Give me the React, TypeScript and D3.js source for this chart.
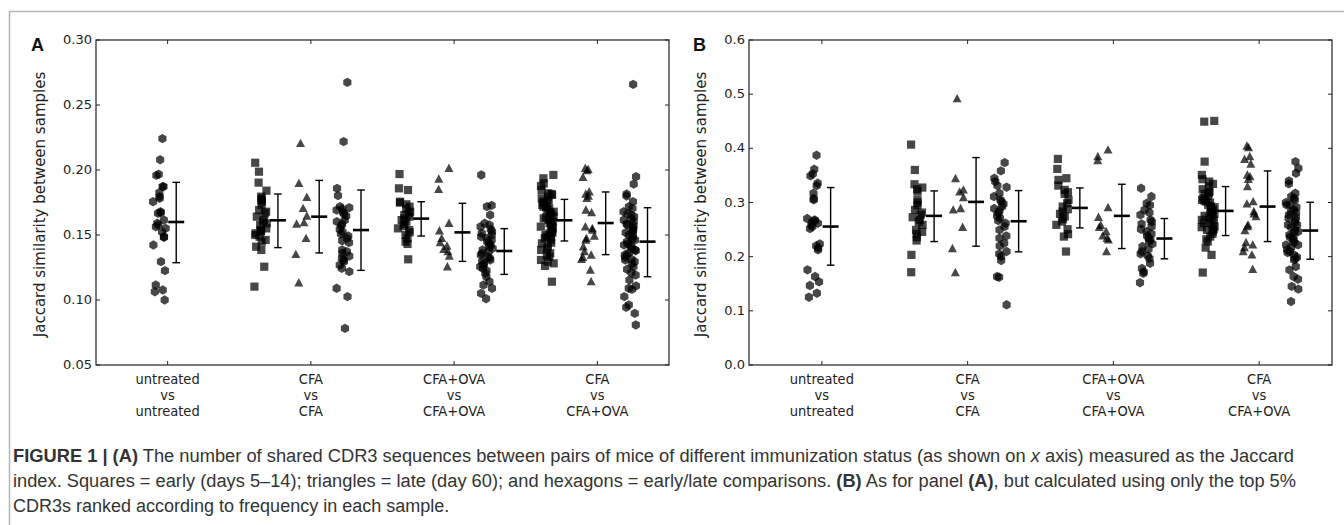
import React from 'react';
import * as d3 from 'd3';

// ---------- categories & ticks ----------
const categoryLabels = [
  ['untreated', 'vs', 'untreated'],
  ['CFA', 'vs', 'CFA'],
  ['CFA+OVA', 'vs', 'CFA+OVA'],
  ['CFA', 'vs', 'CFA+OVA'],
];
const yTicksA = [0.05, 0.1, 0.15, 0.2, 0.25, 0.3];
const yTicksB = [0.0, 0.1, 0.2, 0.3, 0.4, 0.5, 0.6];
const yLabel = 'Jaccard similarity between samples';

// group layout: category index and marker kind for each of the 10 groups
const groupCat = [0, 1, 1, 1, 2, 2, 2, 3, 3, 3];
const groupKind = ['hex', 'sq', 'tri', 'hex', 'sq', 'tri', 'hex', 'sq', 'tri', 'hex'];

// ---------- Panel A values ----------
const A_untr_hex = [0.2241, 0.2079, 0.1967, 0.1959, 0.1872, 0.1872, 0.1826, 0.1795, 0.1782, 0.1756, 0.1679, 0.1672, 0.1667, 0.1615, 0.159, 0.1577, 0.1564, 0.1551, 0.1523, 0.1487, 0.1482, 0.1423, 0.1295, 0.1226, 0.1115, 0.1077, 0.1064, 0.1];
const A_cfa_sq = [0.2056, 0.1987, 0.1903, 0.1841, 0.1795, 0.1782, 0.1769, 0.1756, 0.1731, 0.1692, 0.1679, 0.1667, 0.1641, 0.1615, 0.1603, 0.159, 0.1577, 0.1551, 0.1538, 0.1533, 0.1526, 0.1513, 0.15, 0.1487, 0.1462, 0.1449, 0.141, 0.1385, 0.1256, 0.1103];
const A_cfa_tri = [0.2205, 0.1897, 0.179, 0.1705, 0.1646, 0.1595, 0.1585, 0.1474, 0.1351, 0.1133];
const A_cfa_hex = [0.2674, 0.2218, 0.1859, 0.1803, 0.1718, 0.171, 0.17, 0.1692, 0.1674, 0.1662, 0.1646, 0.1615, 0.1603, 0.1585, 0.1569, 0.1544, 0.1523, 0.1508, 0.1492, 0.1474, 0.1456, 0.1441, 0.1385, 0.1372, 0.1359, 0.1338, 0.1321, 0.1308, 0.1295, 0.1269, 0.1244, 0.1218, 0.109, 0.1026, 0.0782];
const A_ova_sq = [0.1969, 0.1859, 0.1846, 0.1756, 0.1749, 0.1736, 0.1718, 0.17, 0.1679, 0.1667, 0.1654, 0.1641, 0.1628, 0.1615, 0.1603, 0.1585, 0.1569, 0.1551, 0.1538, 0.1521, 0.15, 0.1474, 0.1449, 0.1431, 0.1313];
const A_ova_tri = [0.2013, 0.1931, 0.1851, 0.159, 0.1533, 0.1474, 0.1441, 0.1415, 0.139, 0.1372, 0.1338, 0.1256];
const A_ova_hex = [0.1962, 0.1728, 0.1718, 0.1654, 0.159, 0.1577, 0.1564, 0.1544, 0.1526, 0.1513, 0.15, 0.1487, 0.1474, 0.1462, 0.1449, 0.1436, 0.1423, 0.141, 0.1397, 0.1385, 0.1372, 0.1359, 0.1346, 0.1333, 0.1321, 0.1308, 0.1295, 0.1282, 0.1269, 0.1256, 0.1244, 0.1226, 0.1205, 0.1179, 0.1141, 0.1115, 0.109, 0.1051, 0.101];
const A_cvo_sq = [0.1962, 0.1936, 0.1897, 0.1877, 0.1846, 0.1821, 0.1808, 0.1795, 0.1782, 0.1769, 0.1756, 0.1744, 0.1731, 0.1718, 0.1705, 0.1692, 0.1679, 0.1667, 0.1654, 0.1641, 0.1628, 0.1615, 0.1603, 0.159, 0.1577, 0.1564, 0.1551, 0.1538, 0.1526, 0.1513, 0.15, 0.1487, 0.1474, 0.1462, 0.1436, 0.141, 0.1385, 0.1359, 0.1333, 0.1308, 0.1282, 0.1262, 0.1141, 0.1815, 0.1749, 0.1713, 0.1672, 0.1636, 0.1595, 0.1559, 0.1518, 0.148, 0.1441, 0.1397, 0.1346, 0.1295];
const A_cvo_tri = [0.2013, 0.1995, 0.2005, 0.1944, 0.1833, 0.1815, 0.18, 0.1782, 0.1692, 0.1672, 0.1564, 0.1551, 0.1538, 0.1492, 0.1474, 0.1462, 0.141, 0.1372, 0.1346, 0.1328, 0.1313, 0.1231, 0.1141];
const A_cvo_hex = [0.2659, 0.1949, 0.1892, 0.1815, 0.18, 0.1756, 0.1718, 0.1705, 0.1679, 0.1662, 0.1641, 0.1621, 0.1603, 0.1585, 0.1569, 0.1551, 0.1533, 0.1518, 0.15, 0.1482, 0.1467, 0.1449, 0.1431, 0.1415, 0.1397, 0.1379, 0.1364, 0.1346, 0.1328, 0.1313, 0.1295, 0.1277, 0.1256, 0.1236, 0.121, 0.1192, 0.1154, 0.1108, 0.109, 0.1082, 0.1026, 0.0962, 0.0944, 0.0897, 0.0808, 0.1654, 0.1615, 0.1577, 0.1538, 0.15, 0.1462, 0.1423, 0.1385, 0.1346, 0.1308];

// error bars for panel A (group order as groupCat/groupKind)
const A_lo = [0.1287, 0.1403, 0.1362, 0.1228, 0.1492, 0.1297, 0.1197, 0.1454, 0.1349, 0.1179];
const A_mean = [0.16, 0.1613, 0.1641, 0.1538, 0.1626, 0.152, 0.1377, 0.1613, 0.1592, 0.1449];
const A_hi = [0.1905, 0.1815, 0.192, 0.1846, 0.1756, 0.1744, 0.1549, 0.1774, 0.1831, 0.171];

// ---------- Panel B values ----------
const B_untr_hex = [0.3872, 0.3614, 0.3528, 0.3491, 0.3356, 0.3312, 0.3171, 0.3073, 0.3048, 0.2704, 0.2679, 0.2661, 0.2642, 0.2617, 0.2587, 0.2556, 0.2519, 0.2236, 0.2199, 0.2162, 0.2125, 0.1757, 0.1633, 0.1535, 0.1467, 0.1326, 0.1252];
const B_cfa_sq = [0.4069, 0.3601, 0.3337, 0.3276, 0.3245, 0.3202, 0.3048, 0.2999, 0.295, 0.2864, 0.2814, 0.2771, 0.2728, 0.2679, 0.2642, 0.2587, 0.2494, 0.2458, 0.2421, 0.2359, 0.2298, 0.2033, 0.1713];
const B_cfa_tri = [0.4918, 0.3442, 0.3233, 0.3196, 0.3091, 0.2888, 0.2864, 0.2544, 0.215, 0.1707];
const B_cfa_hex = [0.3737, 0.3583, 0.3448, 0.3386, 0.3312, 0.3282, 0.3171, 0.311, 0.3048, 0.3017, 0.2974, 0.2925, 0.2888, 0.2845, 0.2802, 0.2753, 0.271, 0.2667, 0.2617, 0.2556, 0.2494, 0.2384, 0.2341, 0.2249, 0.2199, 0.2095, 0.2052, 0.2003, 0.1929, 0.1633, 0.1621, 0.1111];
const B_ova_sq = [0.3804, 0.362, 0.3448, 0.3417, 0.3312, 0.3233, 0.3189, 0.3159, 0.3048, 0.2986, 0.2925, 0.2876, 0.2833, 0.279, 0.2741, 0.2691, 0.2648, 0.2587, 0.2507, 0.2415, 0.2371, 0.2095];
const B_ova_tri = [0.3971, 0.3848, 0.3774, 0.2907, 0.2728, 0.2581, 0.2544, 0.2464, 0.2384, 0.2341, 0.231, 0.2095];
const B_ova_hex = [0.3263, 0.311, 0.2986, 0.295, 0.2864, 0.2814, 0.2771, 0.2679, 0.2642, 0.2605, 0.2556, 0.2507, 0.2464, 0.2421, 0.2384, 0.2341, 0.231, 0.2279, 0.2236, 0.2187, 0.2138, 0.2095, 0.2052, 0.2015, 0.1967, 0.1876, 0.1783, 0.1722, 0.1691, 0.1519];
const B_cvo_sq = [0.4506, 0.4493, 0.3755, 0.3509, 0.343, 0.3386, 0.3343, 0.3294, 0.3245, 0.3202, 0.3159, 0.3122, 0.3079, 0.3036, 0.2999, 0.2956, 0.2913, 0.2876, 0.2833, 0.279, 0.2753, 0.271, 0.2667, 0.263, 0.2587, 0.2544, 0.2507, 0.2464, 0.2421, 0.2371, 0.2322, 0.2279, 0.2168, 0.2033, 0.1707, 0.3171, 0.3048, 0.2925, 0.2802, 0.2679, 0.2556, 0.3017, 0.2864, 0.2741, 0.2617, 0.2494];
const B_cvo_tri = [0.4044, 0.4013, 0.3848, 0.3798, 0.3712, 0.3509, 0.3478, 0.343, 0.3294, 0.3017, 0.2974, 0.2833, 0.279, 0.2741, 0.2587, 0.2556, 0.2482, 0.2261, 0.2218, 0.2168, 0.2095, 0.2033, 0.1769];
const B_cvo_hex = [0.3755, 0.3632, 0.354, 0.3399, 0.3343, 0.3171, 0.311, 0.3048, 0.2999, 0.2956, 0.2913, 0.2864, 0.2814, 0.2771, 0.2728, 0.2679, 0.263, 0.2587, 0.2544, 0.2494, 0.2446, 0.2402, 0.2359, 0.231, 0.2261, 0.2218, 0.2175, 0.2125, 0.2076, 0.2033, 0.199, 0.1941, 0.1818, 0.1757, 0.1633, 0.1584, 0.1451, 0.14, 0.1172, 0.3079, 0.2956, 0.2833, 0.271, 0.2587, 0.2464, 0.2341, 0.2218, 0.2095, 0.1967];

const B_lo = [0.1843, 0.2279, 0.2193, 0.2089, 0.2531, 0.215, 0.196, 0.239, 0.2279, 0.1953];
const B_mean = [0.2556, 0.2753, 0.3011, 0.2654, 0.29, 0.2753, 0.2335, 0.2845, 0.2925, 0.2482];
const B_hi = [0.3276, 0.3214, 0.3829, 0.322, 0.3269, 0.3337, 0.2704, 0.3294, 0.3583, 0.3005];

const A_groups = [A_untr_hex, A_cfa_sq, A_cfa_tri, A_cfa_hex, A_ova_sq, A_ova_tri, A_ova_hex, A_cvo_sq, A_cvo_tri, A_cvo_hex];
const B_groups = [B_untr_hex, B_cfa_sq, B_cfa_tri, B_cfa_hex, B_ova_sq, B_ova_tri, B_ova_hex, B_cvo_sq, B_cvo_tri, B_cvo_hex];

// ---------- styling / layout ----------
const W = 1344;
const H = 525;
const TICK_FONT = "'DejaVu Sans', sans-serif";
const XLAB_FONT = "'Liberation Sans Narrow', 'DejaVu Sans Condensed', 'DejaVu Sans', sans-serif";
const CAP_FONT = "'Liberation Sans', Arial, sans-serif";
const INK = '#222';

// offsets (category units) of the point clouds and of the error bars
const pointOffset: Record<string, number> = { sq: -0.35, tri: -0.065, hex: 0.225 };
const barOffset: Record<string, number> = { sq: -0.23, tri: 0.058, hex: 0.35 };
const singlePointOffset = -0.058;
const singleBarOffset = 0.06;

function jitter(i: number, g: number) {
  const s = Math.sin((i + 1) * 12.9898 + (g + 1) * 78.233) * 43758.5453;
  return s - Math.floor(s) - 0.5;
}

function hexPath(r: number) {
  const pts = d3.range(6).map((k) => {
    const a = (Math.PI / 180) * (90 + 60 * k);
    return [r * Math.cos(a), -r * Math.sin(a)];
  });
  return 'M' + pts.map((p) => p[0].toFixed(2) + ',' + p[1].toFixed(2)).join('L') + 'Z';
}
const HEX = hexPath(4.7);
const SQ = 'M-4.1,-4.1L4.1,-4.1L4.1,4.1L-4.1,4.1Z';
const TRI = 'M0,-4.7L4.5,3.7L-4.5,3.7Z';
const markerPath: Record<string, string> = { hex: HEX, sq: SQ, tri: TRI };

type PanelProps = {
  left: number;
  right: number;
  top: number;
  bottom: number;
  yDomain: [number, number];
  yTicks: number[];
  tickFmt: (v: number) => string;
  groups: number[][];
  lo: number[];
  mean: number[];
  hi: number[];
  letter: string;
  letterX: number;
  letterY: number;
  yLabelX: number;
};

function Panel(p: PanelProps) {
  const x = d3.scaleLinear().domain([0.5, 4.5]).range([p.left, p.right]);
  const y = d3.scaleLinear().domain(p.yDomain).range([p.bottom, p.top]);
  const jitterPx = 13;
  const cats = d3.range(categoryLabels.length).map((c) => c + 1);

  const marks: React.ReactNode[] = [];
  p.groups.forEach((vals, g) => {
    const cat = groupCat[g] + 1;
    const kind = groupKind[g];
    const single = groupCat.filter((c) => c === groupCat[g]).length === 1;
    const cx = x(cat + (single ? singlePointOffset : pointOffset[kind]));
    vals.forEach((v, i) => {
      marks.push(
        <path
          key={`p${g}-${i}`}
          d={markerPath[kind]}
          transform={`translate(${(cx + jitter(i, g) * jitterPx).toFixed(2)},${y(v).toFixed(2)})`}
          fill="#000"
          fillOpacity={0.72}
        />
      );
    });
    const bx = x(cat + (single ? singleBarOffset : barOffset[kind]));
    const yl = y(p.lo[g]);
    const yh = y(p.hi[g]);
    const ym = y(p.mean[g]);
    marks.push(
      <g key={`e${g}`} stroke="#000" fill="none">
        <line x1={bx} x2={bx} y1={yl} y2={yh} strokeWidth={1.4} />
        <line x1={bx - 3.8} x2={bx + 3.8} y1={yl} y2={yl} strokeWidth={1.4} />
        <line x1={bx - 3.8} x2={bx + 3.8} y1={yh} y2={yh} strokeWidth={1.4} />
        <line x1={bx - 8} x2={bx + 8} y1={ym} y2={ym} strokeWidth={2.6} />
      </g>
    );
  });

  const tl = 4;
  return (
    <g>
      {marks}
      {/* frame */}
      <rect x={p.left} y={p.top} width={p.right - p.left} height={p.bottom - p.top} fill="none" stroke={INK} strokeWidth={1.2} />
      {/* x ticks (inward, top & bottom) */}
      {cats.map((c) => (
        <g key={`xt${c}`} stroke={INK} strokeWidth={1}>
          <line x1={x(c)} x2={x(c)} y1={p.bottom} y2={p.bottom - tl} />
          <line x1={x(c)} x2={x(c)} y1={p.top} y2={p.top + tl} />
        </g>
      ))}
      {/* y ticks (inward, left & right) */}
      {p.yTicks.map((t) => (
        <g key={`yt${t}`} stroke={INK} strokeWidth={1}>
          <line x1={p.left} x2={p.left + tl} y1={y(t)} y2={y(t)} />
          <line x1={p.right} x2={p.right - tl} y1={y(t)} y2={y(t)} />
        </g>
      ))}
      {/* y tick labels */}
      {p.yTicks.map((t) => (
        <text key={`yl${t}`} x={p.left - 4} y={y(t)} dy="0.32em" textAnchor="end" fontFamily={TICK_FONT} fontSize={13} fill={INK}>
          {p.tickFmt(t)}
        </text>
      ))}
      {/* x tick labels */}
      {cats.map((c, ci) => (
        <text key={`xl${c}`} x={x(c)} y={p.bottom + 19} textAnchor="middle" fontFamily={XLAB_FONT} fontSize={14.5} fill={INK}>
          {categoryLabels[ci].map((line, li) => (
            <tspan key={li} x={x(c)} dy={li === 0 ? 0 : 16}>
              {line}
            </tspan>
          ))}
        </text>
      ))}
      {/* y label */}
      <text
        transform={`translate(${p.yLabelX},${(p.top + p.bottom) / 2 + 2}) rotate(-90)`}
        textAnchor="middle"
        dy="0.35em"
        fontFamily={TICK_FONT}
        fontSize={15}
        fill={INK}
      >
        {yLabel}
      </text>
      {/* panel letter */}
      <text x={p.letterX} y={p.letterY} fontFamily={CAP_FONT} fontWeight="bold" fontSize={18} fill="#111">
        {p.letter}
      </text>
    </g>
  );
}

export default function App() {
  const fmtA = d3.format('.2f');
  const fmtB = d3.format('.1f');
  return (
    <svg width={W} height={H} style={{ position: 'absolute', left: 0, top: 0, background: '#fff' }}>
      {/* figure frame */}
      <path d={`M9.5,${H}L9.5,11.5L${W},11.5`} fill="none" stroke="#b5b5b5" strokeWidth={1.5} />
      <Panel
        left={96}
        right={669}
        top={40}
        bottom={365}
        yDomain={[0.05, 0.3]}
        yTicks={yTicksA}
        tickFmt={fmtA}
        groups={A_groups}
        lo={A_lo}
        mean={A_mean}
        hi={A_hi}
        letter="A"
        letterX={31}
        letterY={51}
        yLabelX={40}
      />
      <Panel
        left={749}
        right={1332}
        top={40}
        bottom={365}
        yDomain={[0, 0.6]}
        yTicks={yTicksB}
        tickFmt={fmtB}
        groups={B_groups}
        lo={B_lo}
        mean={B_mean}
        hi={B_hi}
        letter="B"
        letterX={693}
        letterY={51}
        yLabelX={701}
      />
      {/* caption */}
      <g fontFamily={CAP_FONT} fontSize={18} fill="#333">
        <text x={13} y={462} textLength={1281} lengthAdjust="spacingAndGlyphs">
          <tspan fontWeight="bold">FIGURE 1 | (A)</tspan>
          <tspan> The number of shared CDR3 sequences between pairs of mice of different immunization status (as shown on </tspan>
          <tspan fontStyle="italic">x</tspan>
          <tspan> axis) measured as the Jaccard</tspan>
        </text>
        <text x={13} y={487} textLength={1283} lengthAdjust="spacingAndGlyphs">
          <tspan>index. Squares = early (days 5–14); triangles = late (day 60); and hexagons = early/late comparisons. </tspan>
          <tspan fontWeight="bold">(B)</tspan>
          <tspan> As for panel </tspan>
          <tspan fontWeight="bold">(A)</tspan>
          <tspan>, but calculated using only the top 5%</tspan>
        </text>
        <text x={13} y={512}>
          CDR3s ranked according to frequency in each sample.
        </text>
      </g>
    </svg>
  );
}
